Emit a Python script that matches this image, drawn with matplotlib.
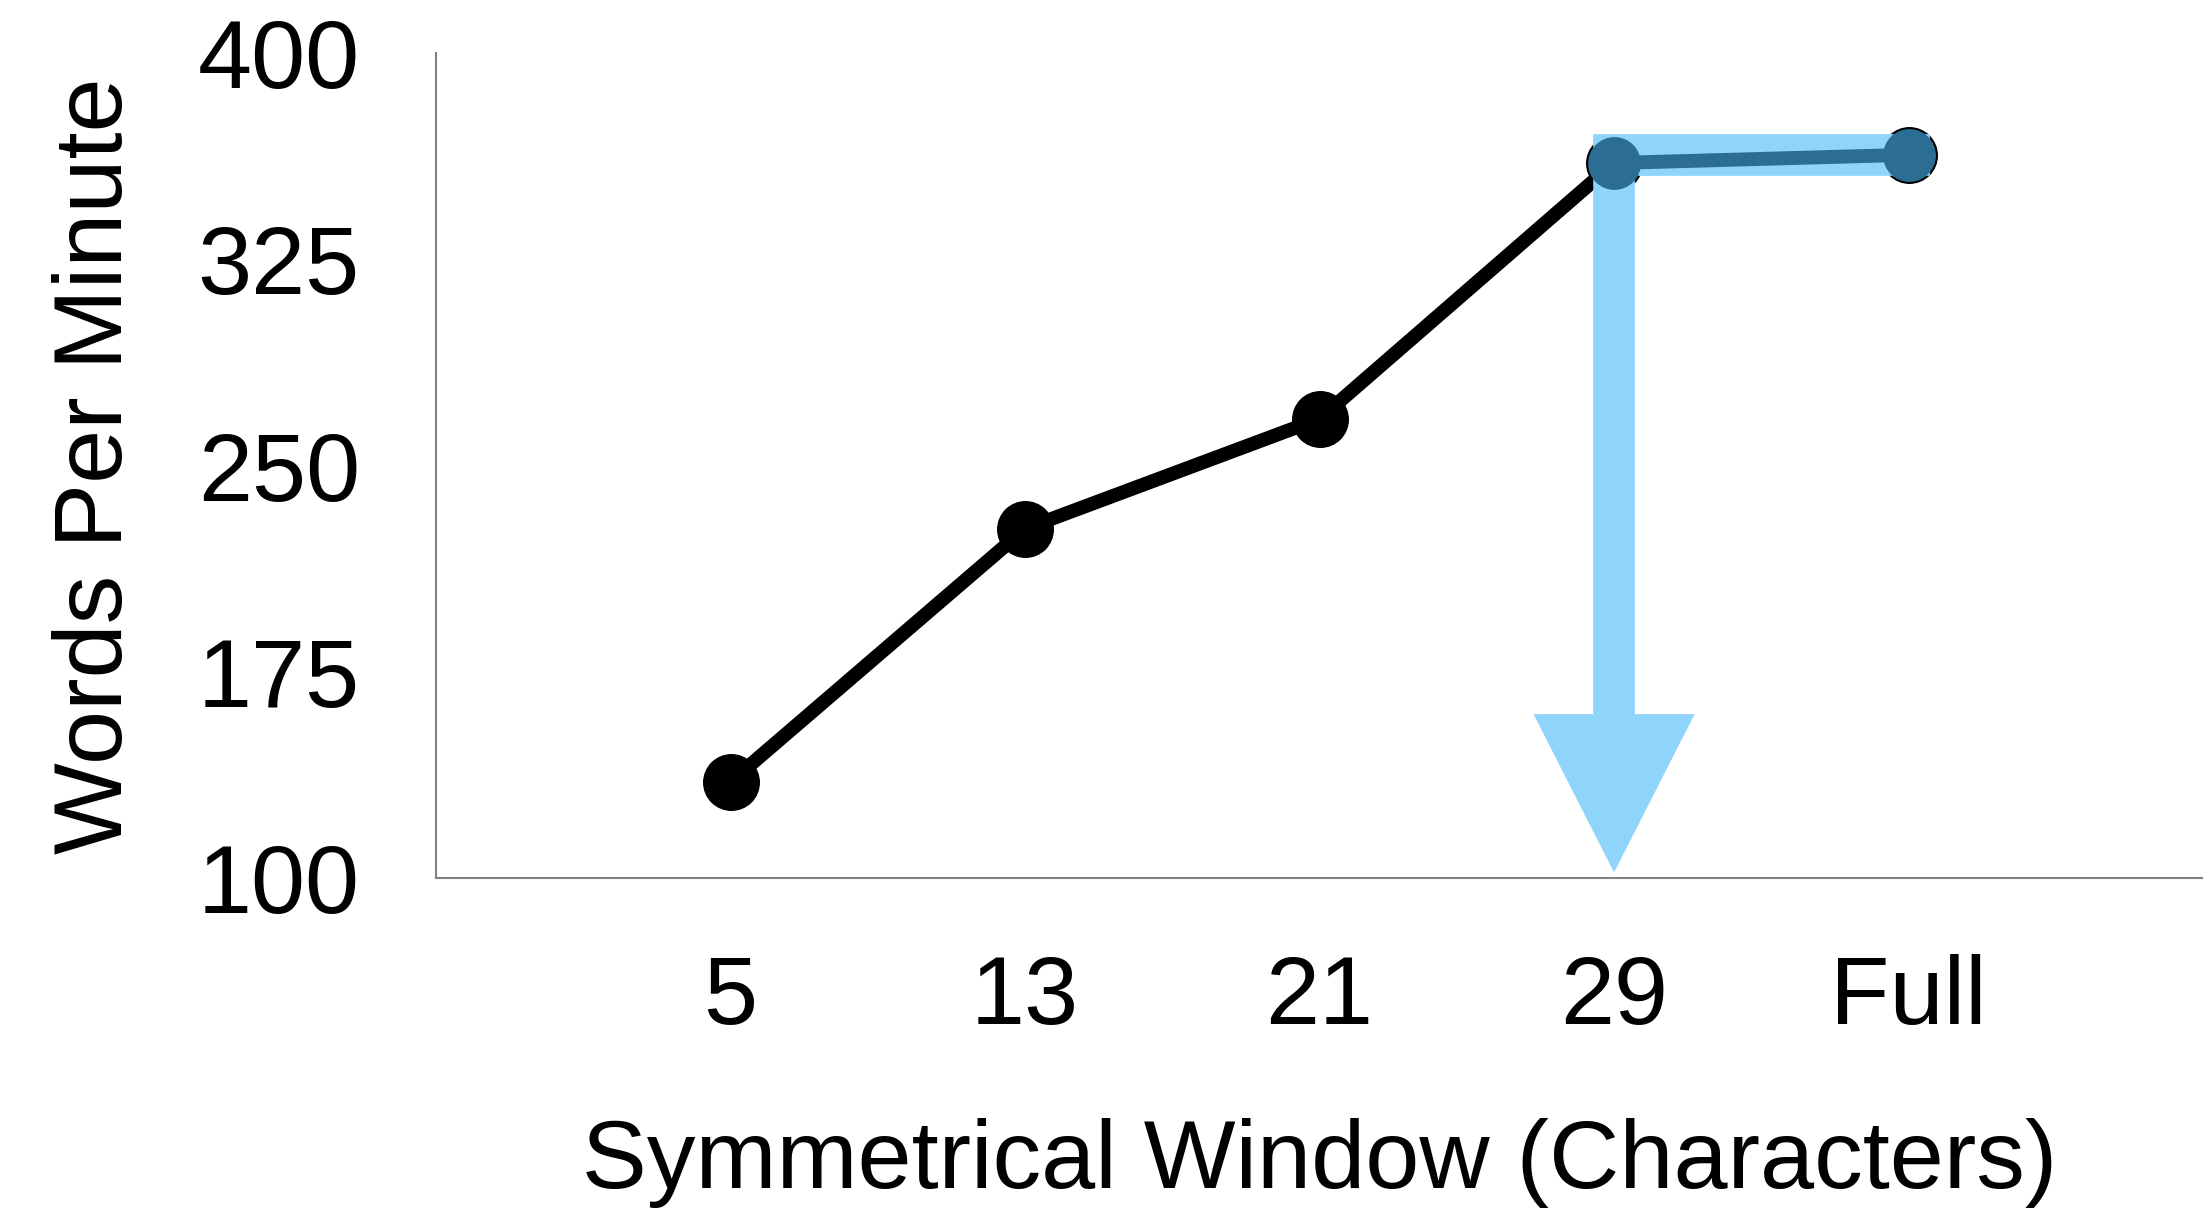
import matplotlib
matplotlib.use("Agg")
import matplotlib.pyplot as plt

categories = ["5", "13", "21", "29", "Full"]
wpm = [135, 227, 267, 360, 363]
y_ticks = [100, 175, 250, 325, 400]

plt.rcParams['font.family'] = ['Liberation Sans', 'DejaVu Sans']

fig = plt.figure(figsize=(22.03, 12.14), dpi=100)
ax = fig.add_axes([0.198, 0.2768, 0.802, 0.6795])

x = list(range(len(categories)))
light = '#8fd4fb'
dark = '#2b6d93'

ax.plot(x, wpm, color='black', lw=10, marker='o', ms=40, zorder=3, solid_capstyle='round')

# highlight band (flat at the "Full" level) and downward arrow from 29
ax.plot(x[3:], [wpm[4], wpm[4]], color=light, lw=30, solid_capstyle='projecting', zorder=4)
ax.annotate('', xy=(x[3], 102), xytext=(x[3], wpm[3]),
            arrowprops=dict(arrowstyle='simple,head_length=11.4,head_width=11.6,tail_width=3.0',
                            mutation_scale=10, color=light, lw=0, shrinkA=0, shrinkB=0),
            zorder=4)
ax.plot(x[3:], wpm[3:], color=dark, lw=10, marker='o', ms=37, zorder=5)

ax.set_xlim(-1, 5)
ax.set_ylim(100, 400)
ax.set_xticks(x)
ax.set_xticklabels(categories)
ax.set_yticks(y_ticks)
ax.tick_params(length=0, labelsize=70, pad=55)
for s in ['top', 'right']:
    ax.spines[s].set_visible(False)
for s in ['left', 'bottom']:
    ax.spines[s].set_color('#808080')
    ax.spines[s].set_linewidth(1.5)

ax.set_xlabel('Symmetrical Window (Characters)', fontsize=70, labelpad=53)
ax.set_ylabel('Words Per Minute', fontsize=70, labelpad=40)

fig.savefig('out.png', dpi=100)
